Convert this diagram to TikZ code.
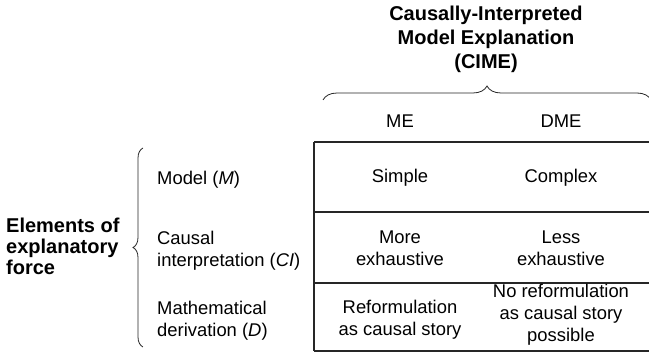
\documentclass[tikz,border=0pt]{standalone}
\usepackage{fontspec}
\setmainfont{Liberation Sans}
\usetikzlibrary{positioning,decorations.pathreplacing}
\tikzset{cell/.style = {align=center,inner sep=0pt,font=\fontsize{18.4}{22}\selectfont},
         rowname/.style = {align=left,anchor=west,inner sep=0pt,font=\fontsize{18.4}{22}\selectfont},
         head/.style = {align=center,inner sep=0pt,font=\bfseries\fontsize{20}{24}\selectfont},
         gridline/.style = {line width=1.2pt,draw=black!85},
         curly/.style = {decorate,decoration={brace,amplitude=#1},line width=0.8pt,draw=black!85}}
\begin{document}
\begin{tikzpicture}[x=1pt,y=-1pt]
    \useasboundingbox (0,0) rectangle (649,355);
    % header
    \node[head] (cime) at (486,39) {Causally-Interpreted\\Model Explanation\\(CIME)};
    \coordinate (tl) at (323,100);
    \coordinate (tr) at (651,100);
    \draw[curly=14pt] (tl) -- (tr);
    \node[cell] (me) at (400,121) {ME};
    \node[cell] (dme) at (561,121) {DME};
    % table
    \foreach \y in {142,212,283,351}
        \draw[gridline] (314,\y) -- (649,\y);
    \draw[gridline] (314,142) -- (314,351);
    \node[cell] (simple) at (400,178) {Simple};
    \node[cell] (complex) at (561,178) {Complex};
    \node[cell] (more) at (400,248) {More\\exhaustive};
    \node[cell] (less) at (561,248) {Less\\exhaustive};
    \node[cell] (reform) at (400,320) {Reformulation\\as causal story};
    \node[cell] (noreform) at (561,315) {No reformulation\\as causal story\\possible};
    % rows
    \node[rowname] (model) at (157,180) {Model (\textit{M})};
    \node[rowname] (interp) at (157,251) {Causal\\interpretation (\textit{CI})};
    \node[rowname] (deriv) at (157,321) {Mathematical\\derivation (\textit{D})};
    \coordinate (lb) at (143,347);
    \coordinate (lt) at (143,148);
    \draw[curly=10pt] (lb) -- (lt);
    \node[rowname,font=\bfseries\fontsize{20}{21}\selectfont] (force) at (6,246) {Elements of\\explanatory\\force};
\end{tikzpicture}
\end{document}
